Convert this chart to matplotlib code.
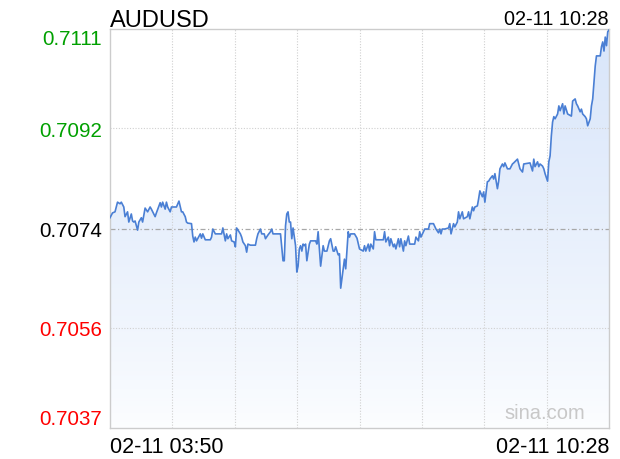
import numpy as np
import matplotlib.pyplot as plt
from matplotlib.patches import Polygon

# минуты от 03:50 и курс AUDUSD
minutes = [0, 2, 4, 6, 8, 9, 11, 12, 14, 15, 17, 18, 19, 20, 22, 23, 25, 26, 28, 30,
           32, 33, 36, 37, 40, 41, 42, 44, 45, 46, 48, 49, 53, 55, 57, 58, 60, 61, 62, 65,
           66, 67, 68, 69, 72, 73, 74, 76, 77, 80, 81, 82, 84, 89, 90, 92, 93, 94, 96, 97,
           99, 100, 101, 104, 105, 106, 108, 109, 110, 112, 116, 117, 118, 120, 121, 123, 124, 126, 128, 129,
           130, 136, 138, 139, 140, 141, 142, 143, 144, 145, 146, 148, 149, 150, 151, 152, 153, 154, 155, 156,
           157, 159, 160, 164, 165, 166, 167, 168, 170, 171, 173, 175, 176, 178, 179, 180, 182, 183, 184, 186,
           187, 188, 190, 191, 192, 195, 197, 199, 202, 203, 204, 206, 207, 208, 210, 211, 212, 218, 219, 220,
           222, 223, 224, 226, 227, 228, 230, 231, 232, 234, 235, 236, 238, 239, 243, 244, 246, 247, 248, 250,
           251, 254, 255, 258, 260, 262, 263, 264, 265, 267, 270, 271, 272, 274, 275, 277, 278, 279, 281, 282,
           285, 286, 287, 289, 290, 291, 293, 294, 295, 297, 298, 299, 300, 301, 302, 303, 305, 306, 307, 309,
           310, 311, 313, 314, 315, 317, 319, 321, 322, 325, 327, 329, 330, 335, 337, 338, 339, 341, 342, 343,
           345, 346, 347, 349, 350, 351, 352, 353, 354, 355, 357, 358, 359, 361, 362, 363, 365, 368, 369, 371,
           372, 373, 375, 376, 377, 379, 380, 381, 383, 384, 385, 387, 388, 391, 392, 393, 394, 395, 396, 397,
           398]
prices = [0.70759, 0.70768, 0.70770, 0.70788, 0.70785, 0.70788, 0.70779, 0.70761, 0.70770, 0.70751,
          0.70766, 0.70753, 0.70751, 0.70753, 0.70736, 0.70751, 0.70759, 0.70751, 0.70777, 0.70770,
          0.70779, 0.70775, 0.70761, 0.70768, 0.70787, 0.70779, 0.70788, 0.70775, 0.70788, 0.70779,
          0.70770, 0.70779, 0.70779, 0.70790, 0.70770, 0.70770, 0.70761, 0.70751, 0.70749, 0.70748,
          0.70725, 0.70714, 0.70723, 0.70716, 0.70729, 0.70721, 0.70729, 0.70718, 0.70718, 0.70718,
          0.70723, 0.70738, 0.70729, 0.70729, 0.70740, 0.70716, 0.70729, 0.70720, 0.70727, 0.70716,
          0.70714, 0.70705, 0.70740, 0.70729, 0.70723, 0.70714, 0.70707, 0.70695, 0.70710, 0.70708,
          0.70708, 0.70720, 0.70729, 0.70738, 0.70729, 0.70729, 0.70720, 0.70727, 0.70733, 0.70738,
          0.70729, 0.70729, 0.70679, 0.70679, 0.70744, 0.70766, 0.70770, 0.70751, 0.70751, 0.70720,
          0.70740, 0.70707, 0.70658, 0.70669, 0.70701, 0.70707, 0.70697, 0.70710, 0.70707, 0.70710,
          0.70679, 0.70710, 0.70716, 0.70716, 0.70710, 0.70733, 0.70701, 0.70669, 0.70707, 0.70697,
          0.70697, 0.70716, 0.70720, 0.70697, 0.70697, 0.70705, 0.70690, 0.70692, 0.70628, 0.70664,
          0.70682, 0.70664, 0.70733, 0.70723, 0.70729, 0.70729, 0.70721, 0.70701, 0.70697, 0.70707,
          0.70697, 0.70710, 0.70697, 0.70710, 0.70701, 0.70733, 0.70718, 0.70718, 0.70733, 0.70714,
          0.70723, 0.70707, 0.70720, 0.70705, 0.70710, 0.70701, 0.70720, 0.70705, 0.70720, 0.70697,
          0.70716, 0.70707, 0.70725, 0.70710, 0.70710, 0.70723, 0.70716, 0.70733, 0.70723, 0.70733,
          0.70738, 0.70738, 0.70748, 0.70748, 0.70738, 0.70731, 0.70738, 0.70729, 0.70738, 0.70738,
          0.70740, 0.70748, 0.70729, 0.70748, 0.70742, 0.70751, 0.70770, 0.70757, 0.70770, 0.70757,
          0.70761, 0.70770, 0.70757, 0.70779, 0.70772, 0.70779, 0.70781, 0.70794, 0.70809, 0.70798,
          0.70807, 0.70788, 0.70807, 0.70826, 0.70827, 0.70831, 0.70837, 0.70831, 0.70841, 0.70813,
          0.70827, 0.70850, 0.70859, 0.70854, 0.70861, 0.70850, 0.70850, 0.70859, 0.70861, 0.70868,
          0.70850, 0.70844, 0.70859, 0.70861, 0.70846, 0.70868, 0.70854, 0.70863, 0.70854, 0.70859,
          0.70855, 0.70850, 0.70841, 0.70827, 0.70863, 0.70874, 0.70911, 0.70937, 0.70947, 0.70943,
          0.70952, 0.70967, 0.70958, 0.70971, 0.70952, 0.70967, 0.70952, 0.70948, 0.70976, 0.70980,
          0.70971, 0.70967, 0.70956, 0.70961, 0.70952, 0.70947, 0.70943, 0.70930, 0.70943, 0.70967,
          0.70980, 0.71041, 0.71060, 0.71060, 0.71077, 0.71086, 0.71069, 0.71095, 0.71079, 0.71105,
          0.71108]

y_ticks = [0.71110, 0.70925, 0.70739, 0.70554, 0.70368]
y_labels = ["0.7111", "0.7092", "0.7074", "0.7056", "0.7037"]
y_colors = ["#00a000", "#00a000", "black", "#ff0000", "#ff0000"]
prev_close = 0.70739

plt.rcParams['font.family'] = ['Liberation Sans', 'DejaVu Sans']

fig = plt.figure(figsize=(6.2, 4.6), dpi=100)
ax = fig.add_axes([110 / 620, 1 - 429 / 460, 499 / 620, 399 / 460])

x = np.array(minutes)
y = np.array(prices)
ax.set_xlim(0, 398)
ax.set_ylim(0.70368, 0.71110)

# градиентная заливка под линией
grad = np.linspace(0, 1, 256).reshape(-1, 1)
c_top = np.array([0.85, 0.90, 0.98])
c_bot = np.array([0.99, 0.995, 1.0])
img = c_bot + (c_top - c_bot) * grad[::-1] ** 0.8
img = np.repeat(img[:, None, :], 2, axis=1)
im = ax.imshow(img, extent=[0, 398, 0.70368, 0.71110], aspect='auto', origin='upper', zorder=1)
poly = Polygon(np.column_stack([np.r_[x, x[-1], x[0]], np.r_[y, 0.70368, 0.70368]]),
               closed=True, facecolor='none', edgecolor='none')
ax.add_patch(poly)
im.set_clip_path(poly)

# сетка
for i in range(1, 8):
    ax.axvline(398 * i / 8, color='#d0d0d0', lw=0.8, ls=(0, (1, 1.5)), zorder=2)
for v in (y_ticks[1], y_ticks[3]):
    ax.axhline(v, color='#d0d0d0', lw=0.8, ls=(0, (1, 1.5)), zorder=2)
ax.axhline(prev_close, color='#a8a8a8', lw=0.9, ls=(0, (4, 2, 1, 2)), zorder=2)

ax.plot(x, y, color='#4a7fd4', lw=1.2, zorder=3)

for s in ax.spines.values():
    s.set_color('#cccccc')
    s.set_linewidth(1)
ax.set_xticks([])
ax.set_yticks(y_ticks)
ax.set_yticklabels(y_labels, fontsize=14.8)
ax.tick_params(axis='y', length=0, pad=6)
for lbl, c in zip(ax.get_yticklabels(), y_colors):
    lbl.set_color(c)
ax.get_yticklabels()[0].set_verticalalignment('top')
ax.get_yticklabels()[-1].set_verticalalignment('bottom')

fig.text(110 / 620, 1 - 27 / 460, "AUDUSD", fontsize=17, ha='left', va='baseline')
fig.text(609 / 620, 1 - 25 / 460, "02-11 10:28", fontsize=14.3, ha='right', va='baseline')
fig.text(110 / 620, 1 - 453 / 460, "02-11 03:50", fontsize=15.5, ha='left', va='baseline')
fig.text(609 / 620, 1 - 453 / 460, "02-11 10:28", fontsize=15.5, ha='right', va='baseline')
fig.text(585 / 620, 1 - 419 / 460, "sina.com", fontsize=14.5, color='#c8c8c8', ha='right', va='baseline')

fig.savefig("out.png", dpi=100)
